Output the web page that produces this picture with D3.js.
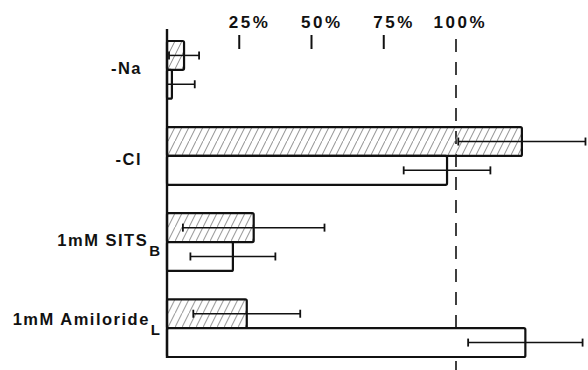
<!DOCTYPE html>
<html>
<head>
<meta charset="utf-8">
<script src="https://cdn.jsdelivr.net/npm/d3@7"></script>
<style>
  html, body { margin: 0; padding: 0; background: #fff; }
  svg { display: block; }
  text { font-family: "Liberation Sans", Arial, sans-serif; font-weight: bold; fill: #111; }
</style>
</head>
<body>
<svg id="chart" width="588" height="370"></svg>
<script>
// Conditions (row labels) and their subscripts
const conditions = ["-Na", "-Cl", "1mM SITS", "1mM Amiloride"];
const subscripts = ["", "", "B", "L"];

// Percent of control, hatched (upper) and open (lower) bars, with error half-widths
const hatchedValues = [5.9, 122.8, 30.0, 27.6];
const hatchedErrors = [5.2, 22.0, 24.5, 18.5];
const openValues = [1.7, 96.9, 22.8, 124.0];
const openErrors = [7.9, 15.0, 14.7, 19.8];

// Top scale
const tickValues = [25, 50, 75, 100];
const tickLabels = ["25%", "50%", "75%", "100%"];

const svg = d3.select("#chart");

const x = d3.scaleLinear().domain([0, 100]).range([167, 456]);

const y = d3.scaleBand()
  .domain(conditions)
  .range([41, 357])
  .paddingInner(0.33)
  .paddingOuter(0);

const series = ["hatched", "open"];
const ySub = d3.scaleBand().domain(series).range([0, y.bandwidth()]);

// Diagonal hatching
const defs = svg.append("defs");
const pat = defs.append("pattern")
  .attr("id", "hatch")
  .attr("patternUnits", "userSpaceOnUse")
  .attr("width", 7)
  .attr("height", 14);
pat.append("line")
  .attr("x1", 0).attr("y1", 14).attr("x2", 7).attr("y2", 0)
  .attr("stroke", "#8a8a8a").attr("stroke-width", 1);

const rows = conditions.map((c, i) => ({
  cond: c,
  sub: subscripts[i],
  bars: [
    { key: "hatched", v: hatchedValues[i], e: hatchedErrors[i] },
    { key: "open", v: openValues[i], e: openErrors[i] }
  ]
}));

// Reference line at 100%
svg.append("line")
  .attr("x1", x(100)).attr("x2", x(100))
  .attr("y1", 39).attr("y2", 370)
  .attr("stroke", "#111").attr("stroke-width", 1.6)
  .attr("stroke-dasharray", "13,10");

// Tick marks above the bars (100% is carried by the dashed line)
svg.selectAll("line.tick")
  .data(tickValues.filter(v => v !== 100))
  .join("line")
  .attr("class", "tick")
  .attr("x1", d => x(d)).attr("x2", d => x(d))
  .attr("y1", 35).attr("y2", 49)
  .attr("stroke", "#111").attr("stroke-width", 2);

svg.selectAll("text.tick-label")
  .data(tickValues)
  .join("text")
  .attr("class", "tick-label")
  .attr("x", d => x(d) + 31)
  .attr("y", 28)
  .attr("text-anchor", "end")
  .attr("font-size", 17)
  .attr("letter-spacing", 2.5)
  .text((d, i) => tickLabels[i]);

// Bars
const groups = svg.selectAll("g.row")
  .data(rows)
  .join("g")
  .attr("class", "row")
  .attr("transform", d => `translate(0,${y(d.cond)})`);

groups.selectAll("rect")
  .data(d => d.bars)
  .join("rect")
  .attr("x", x(0))
  .attr("y", d => ySub(d.key))
  .attr("width", d => x(d.v) - x(0))
  .attr("height", ySub.bandwidth())
  .attr("rx", 1.5)
  .attr("fill", d => d.key === "hatched" ? "url(#hatch)" : "#fff")
  .attr("stroke", "#111")
  .attr("stroke-width", 2.2);

// Error bars
const err = groups.selectAll("g.err")
  .data(d => d.bars)
  .join("g")
  .attr("class", "err")
  .attr("transform", d => `translate(0,${ySub(d.key) + ySub.bandwidth() / 2})`);

err.append("line")
  .attr("x1", d => x(Math.max(0, d.v - d.e)))
  .attr("x2", d => x(d.v + d.e))
  .attr("stroke", "#111").attr("stroke-width", 1.5);

err.selectAll("line.cap")
  .data(d => [Math.max(0, d.v - d.e), d.v + d.e])
  .join("line")
  .attr("class", "cap")
  .attr("x1", d => x(d)).attr("x2", d => x(d))
  .attr("y1", -4).attr("y2", 4)
  .attr("stroke", "#111").attr("stroke-width", 1.8);

// Vertical axis
svg.append("line")
  .attr("x1", x(0)).attr("x2", x(0))
  .attr("y1", 29).attr("y2", 358)
  .attr("stroke", "#111").attr("stroke-width", 2.4);

// Row labels
const labelNudge = [4, 9, 4, -3];
const labels = svg.selectAll("text.row-label")
  .data(rows)
  .join("text")
  .attr("class", "row-label")
  .attr("x", d => d.sub ? 160 : 142)
  .attr("y", (d, i) => y(d.cond) + y.bandwidth() / 2 + labelNudge[i])
  .attr("text-anchor", "end")
  .attr("font-size", 16.5)
  .attr("letter-spacing", 1.5);

labels.append("tspan").text(d => d.cond);
labels.filter(d => d.sub)
  .append("tspan")
  .attr("dy", 10)
  .attr("dx", 1)
  .attr("font-size", 15)
  .attr("letter-spacing", 0)
  .text(d => d.sub);
</script>
</body>
</html>
